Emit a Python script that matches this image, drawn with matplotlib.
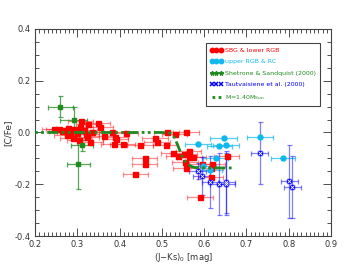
import matplotlib
matplotlib.use('Agg')
import matplotlib.pyplot as plt
from matplotlib.ticker import MultipleLocator, FormatStrFormatter

# SBG & lower RGB
rx = [0.246, 0.256, 0.263, 0.271, 0.279, 0.283, 0.292, 0.300, 0.306, 0.308,
      0.316, 0.321, 0.326, 0.334, 0.348, 0.354, 0.362, 0.275, 0.289, 0.305,
      0.322, 0.330, 0.382, 0.390, 0.391, 0.387, 0.407, 0.448, 0.414, 0.484,
      0.488, 0.509, 0.511, 0.530, 0.557, 0.459, 0.459, 0.437, 0.527, 0.539,
      0.552, 0.563, 0.565, 0.574, 0.555, 0.556, 0.594, 0.615, 0.653, 0.590,
      0.615, 0.619]
ry = [0.015, 0.012, 0.007, 0.010, 0.016, 0.003, 0.012, -0.003, 0.023, 0.045,
      0.010, -0.006, 0.033, 0.003, 0.035, 0.023, -0.014, -0.010, -0.023, -0.029,
      -0.019, -0.035, 0.003, -0.016, -0.026, -0.044, -0.045, -0.050, -0.001, -0.020,
      -0.035, -0.048, 0.002, -0.004, 0.000, -0.100, -0.120, -0.160, -0.080, -0.090,
      -0.083, -0.072, -0.093, -0.093, -0.115, -0.137, -0.120, -0.137, -0.090, -0.250,
      -0.173, -0.120]
rxerr = 0.03

# upper RGB & RC
cx = [0.646, 0.585, 0.636, 0.652, 0.732, 0.786, 0.627, 0.598, 0.613]
cy = [-0.020, -0.044, -0.053, -0.050, -0.016, -0.099, -0.098, -0.128, -0.145]
cxerr = [0.032, 0.031, 0.03, 0.03, 0.031, 0.028, 0.03, 0.03, 0.03]

# Shetrone & Sandquist (2000)
gx = [0.260, 0.291, 0.311, 0.302]
gy = [0.100, 0.050, -0.050, -0.120]
gxerr = [0.03, 0.033, 0.025, 0.027]
gyerr = [0.04, 0.05, 0.02, 0.10]

# Tautvaisiene et al. (2000)
bx = [0.585, 0.594, 0.614, 0.634, 0.652, 0.652, 0.731, 0.801, 0.808]
by = [-0.149, -0.168, -0.190, -0.198, -0.190, -0.200, -0.078, -0.189, -0.209]
bxerr = [0.02, 0.02, 0.02, 0.02, 0.02, 0.02, 0.02, 0.02, 0.02]
byerr = [0.03, 0.075, 0.10, 0.12, 0.12, 0.12, 0.12, 0.14, 0.12]

# model M=1.40 Msun
mx = [0.20, 0.50, 0.52, 0.53, 0.54, 0.55, 0.56, 0.57, 0.58, 0.60, 0.67]
my = [0.0, 0.0, -0.003, -0.02, -0.06, -0.10, -0.122, -0.132, -0.136, -0.137, -0.137]

red = '#ff0000'
cyan = '#10b8f0'
green = '#1f8a1f'
blue = '#0000ff'
txt = '#333333'

fig = plt.figure(figsize=(3.47, 2.78), dpi=100)
ax = fig.add_axes([0.101, 0.151, 0.853, 0.745])

ax.errorbar(rx, ry, xerr=rxerr, fmt='none', ecolor=red, alpha=0.45, elinewidth=0.9,
            capsize=1.8, capthick=0.9, zorder=2)
ax.plot(rx, ry, 's', color=red, ms=3.6, mec=red, zorder=4)
ax.plot([], [], 'o', color=red, ms=3.2, label='SBG & lower RGB')

ax.errorbar(cx, cy, xerr=cxerr, fmt='none', ecolor=cyan, alpha=0.7, elinewidth=0.9,
            capsize=1.8, capthick=0.9, zorder=2)
ax.plot(cx, cy, 'o', color=cyan, ms=3.6, zorder=4)
ax.plot([], [], 'o', color=cyan, ms=3.2, label='upper RGB & RC')

ax.errorbar(gx, gy, xerr=gxerr, yerr=gyerr, fmt='none', ecolor=green, alpha=0.75,
            elinewidth=0.9, capsize=1.8, capthick=0.9, zorder=2)
ax.plot(gx, gy, 's', color=green, ms=2.4, zorder=5)
ax.plot([], [], '*', color=green, ms=3.2, label='Shetrone & Sandquist (2000)')

ax.errorbar(bx, by, xerr=bxerr, yerr=byerr, fmt='none', ecolor=blue, alpha=0.5,
            elinewidth=0.9, capsize=1.8, capthick=0.9, zorder=3)
ax.plot(bx, by, 's', color=blue, ms=3.4, zorder=5)
ax.plot(bx, by, 'x', color='white', ms=2.2, mew=0.6, zorder=6)
ax.plot([], [], 'x', color=blue, ms=2.8, mew=1.1, label='Tautvaisiene et al. (2000)')

ax.plot(mx, my, color=green, lw=2.0, dashes=(1, 1.2, 1, 1.2, 4, 1.2), zorder=5,
        label='M=1.40M$_{\\rm Sun}$')

ax.set_xlim(0.2, 0.9)
ax.set_ylim(-0.4, 0.4)
ax.xaxis.set_major_locator(MultipleLocator(0.1))
ax.xaxis.set_minor_locator(MultipleLocator(0.01))
ax.yaxis.set_major_locator(MultipleLocator(0.2))
ax.yaxis.set_minor_locator(MultipleLocator(0.05))
ax.xaxis.set_major_formatter(FormatStrFormatter('%.1f'))
ax.yaxis.set_major_formatter(FormatStrFormatter('%.1f'))
ax.tick_params(which='both', direction='in', top=True, right=True, colors=txt,
               labelsize=6, width=0.6)
ax.tick_params(which='major', length=6, pad=3)
ax.tick_params(which='minor', length=3)
for s in ax.spines.values():
    s.set_color('#444444')
    s.set_linewidth(0.8)

ax.set_xlabel('(J\u2212Ks)$_0$ [mag]', fontsize=6, color=txt, labelpad=1)
ax.set_ylabel('[C/Fe]', fontsize=6.5, color=txt, labelpad=2)

leg = ax.legend(loc='upper left', bbox_to_anchor=(0.577, 0.93), fontsize=4.5,
                numpoints=3, handlelength=2.0, handletextpad=0.35,
                borderpad=0.7, labelspacing=0.95, borderaxespad=0,
                fancybox=False, edgecolor='#444444', framealpha=1)
leg.get_frame().set_linewidth(0.8)
for t, c in zip(leg.get_texts(), [red, cyan, green, blue, green]):
    t.set_color(c)

fig.savefig('out.png', dpi=100)
